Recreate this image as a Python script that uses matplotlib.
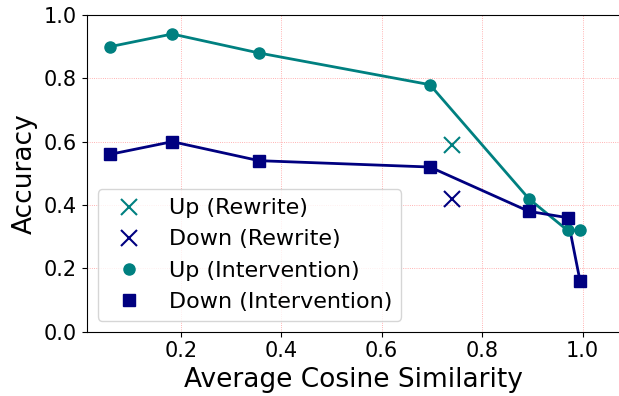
import numpy as np
import matplotlib
matplotlib.use('Agg')
import matplotlib.pyplot as plt

# cosine similarity of each intervention point
cos_sim = [0.059, 0.183, 0.356, 0.696, 0.893, 0.970, 0.995]
up_intervention = [0.90, 0.94, 0.88, 0.78, 0.42, 0.32, 0.32]
down_intervention = [0.56, 0.60, 0.54, 0.52, 0.38, 0.36, 0.16]

rewrite_sim = [0.74]
up_rewrite = [0.59]
down_rewrite = [0.42]

plt.rcParams['font.size'] = 15

fig = plt.figure(figsize=(6.19, 3.96), dpi=100)
ax = fig.add_axes([0.140, 0.1624, 0.862, 0.7997])

ax.plot(rewrite_sim, up_rewrite, 'x', color='teal', markersize=11, markeredgewidth=1.5, label='Up (Rewrite)')
ax.plot(rewrite_sim, down_rewrite, 'x', color='navy', markersize=11, markeredgewidth=1.5, label='Down (Rewrite)')
ax.plot(cos_sim, up_intervention, '-', color='teal', linewidth=2)
ax.plot(cos_sim, down_intervention, '-', color='navy', linewidth=2)
ax.plot(cos_sim, up_intervention, 'o', color='teal', markersize=8, label='Up (Intervention)')
ax.plot(cos_sim, down_intervention, 's', color='navy', markersize=8, label='Down (Intervention)')

ax.grid(True, color='red', linestyle=':', linewidth=0.6, alpha=0.4)
ax.set_xlim(0.0126, 1.075)
ax.set_ylim(0, 1.0)
ax.set_xticks([0.2, 0.4, 0.6, 0.8, 1.0])
ax.set_yticks([0.0, 0.2, 0.4, 0.6, 0.8, 1.0])
ax.set_xlabel('Average Cosine Similarity', fontsize=19)
ax.set_ylabel('Accuracy', fontsize=19)
ax.legend(loc='lower left', fontsize=16)

plt.savefig('out.png', dpi=100)
